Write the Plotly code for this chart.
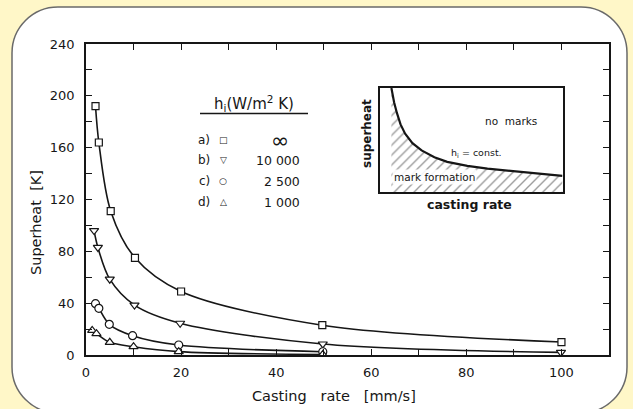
import plotly.graph_objects as go

# ---------------- data ----------------
x_a = [2.0, 2.7, 5.2, 10.3, 20.0, 49.7, 100.0]
y_a = [192, 164, 111, 75, 49, 23, 10]

x_b = [1.7, 2.5, 5.0, 10.2, 19.8, 49.8, 99.9]
y_b = [96, 83, 58.5, 38.5, 24.5, 8.5, 2.0]

x_c = [2.0, 2.7, 4.9, 9.8, 19.5, 49.8]
y_c = [39.6, 36, 23.7, 14.9, 7.7, 2.5]

x_d = [1.3, 2.2, 5.0, 10.0, 19.5, 49.8]
y_d = [19, 16.5, 9.8, 6.4, 2.6, 0.4]

series_x = [x_a, x_b, x_c, x_d]
series_y = [y_a, y_b, y_c, y_d]
series_symbols = ["square", "triangle-down", "circle", "triangle-up"]
series_sizes = [7, 8, 8, 8]

x_tickvals = [0, 20, 40, 60, 80, 100]
y_tickvals = [0, 40, 80, 120, 160, 200, 240]

legend_title = "h<sub>i</sub>(W/m<sup>2</sup> K)"
legend_labels = ["a)", "b)", "c)", "d)"]
legend_glyphs = ["\u25a1", "\u25bd", "\u25cb", "\u25b3"]
legend_values = ["\u221e", "10\u00a0000", "2\u00a0500", "1\u00a0000"]

# inset (schematic) curve, in inset units 0..1
inset_x = [0.065, 0.08, 0.095, 0.115, 0.14, 0.18, 0.23, 0.30, 0.37, 0.48, 0.59, 0.72, 0.85, 1.0]
inset_y = [1.0, 0.86, 0.76, 0.65, 0.56, 0.47, 0.40, 0.335, 0.29, 0.252, 0.225, 0.203, 0.185, 0.155]

# ---------------- layout geometry (pixels) ----------------
W, H = 633, 409
L, R, T, B = 86, 609, 44, 355
PW, PH = R - L, B - T


def X(px):
    return (px - L) / PW


def Y(py):
    return (B - py) / PH


INK = "#161616"
FONT = "DejaVu Sans"

fig = go.Figure()

for xs, ys, sym, sz in zip(series_x, series_y, series_symbols, series_sizes):
    fig.add_trace(go.Scatter(
        x=xs, y=ys, mode="lines+markers",
        line=dict(color=INK, width=1.6, shape="spline", smoothing=0.9),
        marker=dict(symbol=sym, size=sz, color="white", line=dict(color=INK, width=1.2)),
        showlegend=False, hoverinfo="skip",
    ))

# inset hatched region + curve
fig.add_trace(go.Scatter(
    x=inset_x, y=inset_y, xaxis="x2", yaxis="y2", mode="lines",
    line=dict(color=INK, width=2.2),
    fill="tozeroy", fillcolor="white",
    fillpattern=dict(shape="/", fgcolor="#3a3a3a", bgcolor="white", size=7, solidity=0.2),
    showlegend=False, hoverinfo="skip",
))

# ---------------- rounded frame ----------------
x0, y0, x1, y1, r = 12, 7, 627, 413, 46
k = 0.5523 * r


def P(px, py):
    return f"{X(px):.5f},{Y(py):.5f}"


path = (
    f"M {P(x0 + r, y0)} L {P(x1 - r, y0)} "
    f"C {P(x1 - r + k, y0)} {P(x1, y0 + r - k)} {P(x1, y0 + r)} "
    f"L {P(x1, y1 - r)} "
    f"C {P(x1, y1 - r + k)} {P(x1 - r + k, y1)} {P(x1 - r, y1)} "
    f"L {P(x0 + r, y1)} "
    f"C {P(x0 + r - k, y1)} {P(x0, y1 - r + k)} {P(x0, y1 - r)} "
    f"L {P(x0, y0 + r)} "
    f"C {P(x0, y0 + r - k)} {P(x0 + r - k, y0)} {P(x0 + r, y0)} Z"
)
shapes = [
    dict(type="path", xref="paper", yref="paper", path=path,
         fillcolor="white", line=dict(color="#6a6a6a", width=1.5), layer="below"),
    # underline of legend heading
    dict(type="line", xref="paper", yref="paper", x0=X(200), x1=X(308), y0=Y(113.5), y1=Y(113.5),
         line=dict(color=INK, width=1.6)),
]


def A(text, px, py, size, xanchor="center", angle=0, **kw):
    return dict(text=text, x=X(px), y=Y(py), xref="paper", yref="paper", showarrow=False,
                xanchor=xanchor, yanchor="middle", textangle=angle,
                font=dict(family=FONT, size=size, color=INK), **kw)


# ---------------- annotations ----------------
ann = [A(legend_title, 254, 103, 15)]
row_y = [139.5, 160, 181, 202]
for lab, g, v, ry in zip(legend_labels, legend_glyphs, legend_values, row_y):
    ann.append(A(lab, 204, ry, 12))
    ann.append(A(g, 223, ry, 9))
    if v == "\u221e":
        ann.append(A(v, 280, ry + 1, 22))
    else:
        ann.append(A(v, 302, ry, 12.5, xanchor="right"))

# inset texts
ann += [
    dict(text="no\u00a0\u00a0marks", x=0.72, y=0.68, xref="x2", yref="y2", showarrow=False,
         xanchor="center", yanchor="middle", font=dict(family=FONT, size=10.5, color=INK)),
    dict(text="h<sub>i</sub> = const.", x=0.53, y=0.37, xref="x2", yref="y2", showarrow=False,
         xanchor="center", yanchor="middle", font=dict(family=FONT, size=9.5, color=INK)),
    dict(text="mark formation", x=0.30, y=0.145, xref="x2", yref="y2", showarrow=False,
         xanchor="center", yanchor="middle",
         bgcolor="rgba(255,255,255,0.9)", borderpad=1,
         font=dict(family=FONT, size=10.5, color=INK)),
    A("<b>superheat</b>", 367, 134, 12, angle=-90),
    A("<b>casting rate</b>", 469, 204, 12.5),
    # main axis titles
    A("Superheat\u00a0\u00a0[K]", 36, 223, 14.5, angle=-90),
    A("Casting\u00a0\u00a0\u00a0rate\u00a0\u00a0\u00a0[mm/s]", 334, 396, 14.5),
]

axis_common = dict(
    showline=True, linecolor=INK, linewidth=1.5, mirror="ticks",
    ticks="inside", ticklen=6, tickwidth=1.2, tickcolor=INK,
    showgrid=False, zeroline=False,
    tickfont=dict(family=FONT, size=13, color=INK),
)

fig.update_layout(
    width=W, height=H,
    margin=dict(l=L, r=W - R, t=T, b=H - B, pad=0),
    paper_bgcolor="#FFF7C8", plot_bgcolor="rgba(0,0,0,0)",
    xaxis=dict(range=[0, 110], tickvals=x_tickvals, ticklabelstandoff=5,
               minor=dict(dtick=10, ticks="inside", ticklen=6, tickwidth=1.2, tickcolor=INK),
               **axis_common),
    yaxis=dict(range=[0, 240], tickvals=y_tickvals, ticklabelstandoff=7,
               minor=dict(dtick=20, ticks="inside", ticklen=6, tickwidth=1.2, tickcolor=INK),
               **axis_common),
    xaxis2=dict(domain=[X(379.5), X(562.5)], anchor="y2", range=[0, 1],
                showline=True, linecolor=INK, linewidth=1.5, mirror=True,
                showticklabels=False, ticks="", showgrid=False, zeroline=False),
    yaxis2=dict(domain=[Y(192), Y(88)], anchor="x2", range=[0, 1],
                showline=True, linecolor=INK, linewidth=1.5, mirror=True,
                showticklabels=False, ticks="", showgrid=False, zeroline=False),
    shapes=shapes,
    annotations=ann,
    showlegend=False,
)

fig.write_html("out.html")
